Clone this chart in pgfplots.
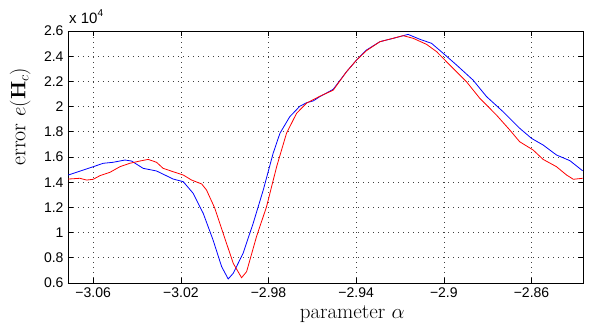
\documentclass[border=0pt]{standalone}
\usepackage{pgfplots}
\pgfplotsset{compat=1.18}
\usepackage[no-math]{fontspec}
\setmainfont{Liberation Sans}
\newfontfamily\lmfont{Latin Modern Roman}
\begin{document}
\begin{tikzpicture}
\begin{axis}[
  scale only axis,
  width=515pt, height=252pt,
  xmin=-3.0715, xmax=-2.8365,
  ymin=0.6, ymax=2.6,
  xtick={-3.06,-3.02,-2.98,-2.94,-2.9,-2.86},
  xticklabels={−3.06,−3.02,−2.98,−2.94,−2.9,−2.86},
  ytick={0.6,0.8,1,1.2,1.4,1.6,1.8,2,2.2,2.4,2.6},
  yticklabels={0.6,0.8,1,1.2,1.4,1.6,1.8,2,2.2,2.4,2.6},
  tick align=inside,
  major tick length=5pt,
  tick style={black, line width=0.6pt},
  axis line style={black, line width=0.9pt},
  grid=major,
  major grid style={black!75, line width=0.6pt, dash pattern=on 0.7pt off 4.3pt},
  ticklabel style={font=\fontsize{14}{16}\selectfont},
  /pgf/number format/assume math mode=true,
  xticklabel style={yshift=-1pt},
  yticklabel style={xshift=-1pt},
  xlabel={\lmfont parameter $\alpha$},
  ylabel={\lmfont error $e(\mathbf{H}_c)$},
  xlabel style={font=\fontsize{21}{24}\selectfont, at={(axis description cs:0.552,0)}, anchor=north, yshift=-19pt},
  ylabel style={font=\fontsize{22}{25}\selectfont, at={(axis description cs:0,0.66)}, anchor=south, yshift=34pt},
  clip=true,
]
\addplot[blue, line width=0.8pt] coordinates {
(-3.0714,1.457) (-3.0600,1.523) (-3.0554,1.550) (-3.0509,1.558) (-3.0455,1.576)
(-3.0425,1.568) (-3.0372,1.510) (-3.0311,1.489) (-3.0235,1.425) (-3.0189,1.404)
(-3.0144,1.312) (-3.0098,1.153) (-3.0053,0.941) (-3.0014,0.730) (-2.9984,0.632)
(-2.9961,0.677) (-2.9916,0.836) (-2.9870,1.074) (-2.9824,1.338) (-2.9779,1.629)
(-2.9748,1.788) (-2.9703,1.920) (-2.9657,2.003) (-2.9626,2.031) (-2.9596,2.045)
(-2.9566,2.079) (-2.9505,2.137) (-2.9444,2.277) (-2.9398,2.370) (-2.9353,2.449)
(-2.9292,2.515) (-2.9231,2.542) (-2.9163,2.573) (-2.9109,2.534) (-2.9056,2.502)
(-2.9003,2.423) (-2.8942,2.330) (-2.8867,2.211) (-2.8805,2.079) (-2.8730,1.960)
(-2.8654,1.828) (-2.8600,1.748) (-2.8547,1.695) (-2.8486,1.616) (-2.8425,1.571)
(-2.8367,1.491)
};
\addplot[red, line width=0.8pt] coordinates {
(-3.0714,1.425) (-3.0661,1.431) (-3.0630,1.417) (-3.0600,1.423) (-3.0569,1.452)
(-3.0524,1.478) (-3.0478,1.523) (-3.0433,1.550) (-3.0387,1.568) (-3.0349,1.581)
(-3.0311,1.558) (-3.0281,1.510) (-3.0235,1.483) (-3.0189,1.457) (-3.0151,1.417)
(-3.0105,1.386) (-3.0083,1.338) (-3.0045,1.193) (-3.0007,0.994) (-2.9961,0.756)
(-2.9923,0.642) (-2.9900,0.690) (-2.9855,0.967) (-2.9809,1.206) (-2.9763,1.523)
(-2.9718,1.788) (-2.9672,1.947) (-2.9626,2.028) (-2.9566,2.082) (-2.9505,2.130)
(-2.9444,2.277) (-2.9398,2.370) (-2.9353,2.444) (-2.9292,2.515) (-2.9231,2.542)
(-2.9186,2.563) (-2.9140,2.542) (-2.9079,2.494) (-2.9033,2.436) (-2.8973,2.330)
(-2.8897,2.198) (-2.8836,2.066) (-2.8760,1.933) (-2.8699,1.814) (-2.8654,1.721)
(-2.8593,1.656) (-2.8547,1.581) (-2.8486,1.523) (-2.8440,1.457) (-2.8409,1.423)
(-2.8367,1.431)
};
\end{axis}
\node[anchor=base west, font=\fontsize{15}{17}\selectfont, inner sep=0pt] at (1pt,259pt) {x 10\raisebox{1.0ex}{\fontsize{10}{11}\selectfont 4}};
\pgfresetboundingbox
\path (-68pt,-43pt) rectangle (521pt,283pt);
\end{tikzpicture}
\end{document}
